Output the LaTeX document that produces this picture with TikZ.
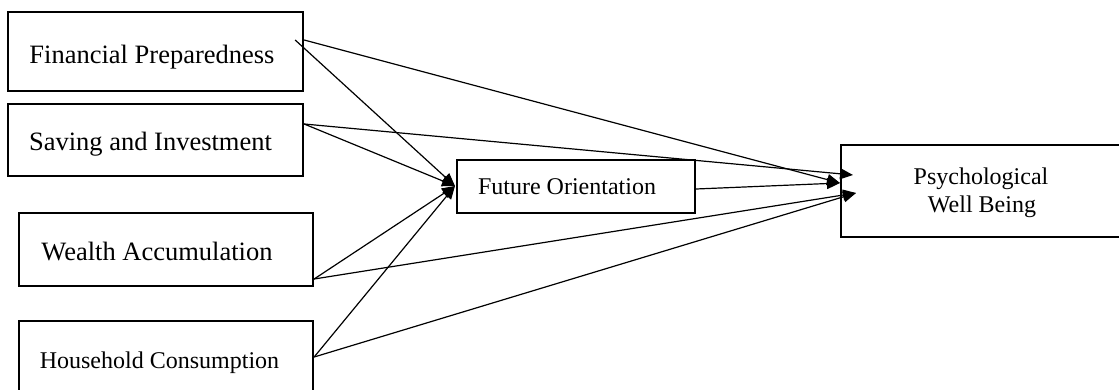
\documentclass[tikz,border=0pt]{standalone}
\usepackage{fontspec}
\setmainfont{Liberation Serif}
\usetikzlibrary{arrows.meta,calc}
\tikzset{
  box/.style={draw, line width=2.3pt, inner sep=0pt, fill=white},
  lbl/.style={inner sep=0pt, align=center},
  conn/.style={line width=1.2pt, -{Triangle[length=13pt,width=11pt]}},
  bigtxt/.style={font=\fontsize{26.5}{30}\selectfont},
  smtxt/.style={font=\fontsize{24}{28}\selectfont},
}
\begin{document}
\begin{tikzpicture}[x=1pt,y=-1pt]
\useasboundingbox (0,0) rectangle (1119,390);
\clip (0,0) rectangle (1119,390);
% boxes
\node[box, minimum width=295pt, minimum height=79pt] (fp) at (155.5,51.5) {};
\node[box, minimum width=295pt, minimum height=72pt] (si) at (155.5,140) {};
\node[box, minimum width=294pt, minimum height=73pt] (wa) at (166,249.5) {};
\node[box, minimum width=294pt, minimum height=80pt] (hc) at (166,361) {};
\node[box, minimum width=238pt, minimum height=53pt] (fo) at (576,186.5) {};
\node[box, minimum width=290pt, minimum height=92pt] (pw) at (986,191) {};
% texts
\node[lbl, bigtxt, anchor=base] (fpt) at (152,64) {Financial Preparedness};
\node[lbl, bigtxt, anchor=base] (sit) at (150.5,150.5) {Saving and Investment};
\node[lbl, bigtxt, anchor=base] (wat) at (157,260) {Wealth Accumulation};
\node[lbl, smtxt, anchor=base] (hct) at (159.5,368) {Household Consumption};
\node[lbl, smtxt, anchor=base] (fot) at (567,195) {Future Orientation};
\node[lbl, smtxt, anchor=base] (pwt1) at (981,185) {Psychological};
\node[lbl, smtxt, anchor=base] (pwt2) at (982,213) {Well Being};
% convergence points
\coordinate (foin) at (455,186);
\coordinate (pwa) at (853,175);
\coordinate (pwb) at (840,183);
\coordinate (pwc) at (856,193);
% connectors
\draw[conn] ([xshift=-9pt,yshift=11.5pt]fp.east) -- (foin);
\draw[conn] ([yshift=11.5pt]fp.east) -- (pwb);
\draw[conn] ([yshift=16pt]si.east) -- (foin);
\draw[conn] ([yshift=16pt]si.east) -- (pwa);
\draw[conn] ([yshift=-29.5pt]wa.east) -- (foin);
\draw[conn] ([yshift=-29.5pt]wa.east) -- (pwc);
\draw[conn] ([yshift=4pt]hc.east) -- (foin);
\draw[conn] ([yshift=4pt]hc.east) -- (pwc);
\draw[conn] ([yshift=-2.5pt]fo.east) -- (pwb);
\end{tikzpicture}
\end{document}
